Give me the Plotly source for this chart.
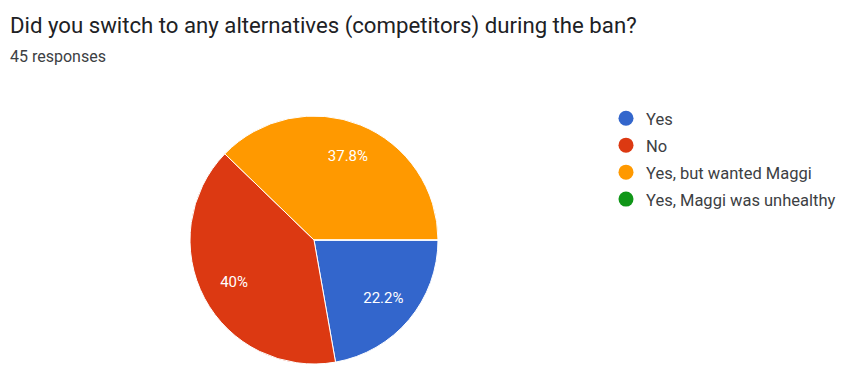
import plotly.graph_objects as go

labels = ["Yes", "No", "Yes, but wanted Maggi", "Yes, Maggi was unhealthy"]
counts = [10, 18, 17, 0]
colors = ["#3366cc", "#dc3912", "#ff9900", "#109618"]
title_text = "Did you switch to any alternatives (competitors) during the ban?"
subtitle_text = "45 responses"

W, H = 841, 367
total = sum(counts)
pct_text = []
for c in counts:
    s = f"{c / total * 100:.1f}".rstrip("0").rstrip(".")
    pct_text.append(s + "%" if c > 0 else "")

cx, cy, r = 314, 240, 124
dom = dict(x=[(cx - r) / W, (cx + r) / W], y=[(H - cy - r) / H, (H - cy + r) / H])

fig = go.Figure()
# the pie itself
fig.add_trace(go.Pie(
    labels=labels, values=counts, textinfo="none",
    marker=dict(colors=colors, line=dict(color="white", width=1)),
    sort=False, direction="clockwise", rotation=90,
    showlegend=False, hoverinfo="label+percent", domain=dom,
))
# transparent ring on top carrying the percentage labels further out
fig.add_trace(go.Pie(
    labels=labels, values=counts, text=pct_text, hole=0.46,
    texttemplate="%{text}", textinfo="text", textposition="inside",
    insidetextorientation="horizontal",
    textfont=dict(family="Roboto", size=15, color="white"),
    marker=dict(colors=["rgba(0,0,0,0)"] * len(labels), line=dict(width=0)),
    sort=False, direction="clockwise", rotation=90,
    showlegend=False, hoverinfo="skip", domain=dom,
))

for i, (lab, col) in enumerate(zip(labels, colors)):
    fig.add_trace(go.Scatter(
        x=[None], y=[None], mode="markers", name=lab,
        marker=dict(color=col, size=15, symbol="circle"),
        legendgroup=f"g{i}", showlegend=True,
    ))

fig.update_layout(
    width=W, height=H,
    margin=dict(l=0, r=0, t=0, b=0, autoexpand=False),
    paper_bgcolor="white", plot_bgcolor="white",
    xaxis=dict(visible=False), yaxis=dict(visible=False),
    legend=dict(
        xref="container", yref="container",
        x=606 / W, y=1 - 101 / H, xanchor="left", yanchor="top",
        font=dict(family="Roboto", size=16.5, color="#3c4043"),
        itemsizing="trace", tracegroupgap=2.5,
        bgcolor="rgba(0,0,0,0)",
    ),
    annotations=[
        dict(text=title_text, x=8 / W, y=1 - 25 / H, xref="paper", yref="paper",
             xanchor="left", yanchor="middle", showarrow=False,
             font=dict(family="Roboto", size=22.2, color="#202124")),
        dict(text=subtitle_text, x=8 / W, y=1 - 57 / H, xref="paper", yref="paper",
             xanchor="left", yanchor="middle", showarrow=False,
             font=dict(family="Roboto", size=16, color="#3c4043")),
    ],
)

fig.write_html("out.html")
